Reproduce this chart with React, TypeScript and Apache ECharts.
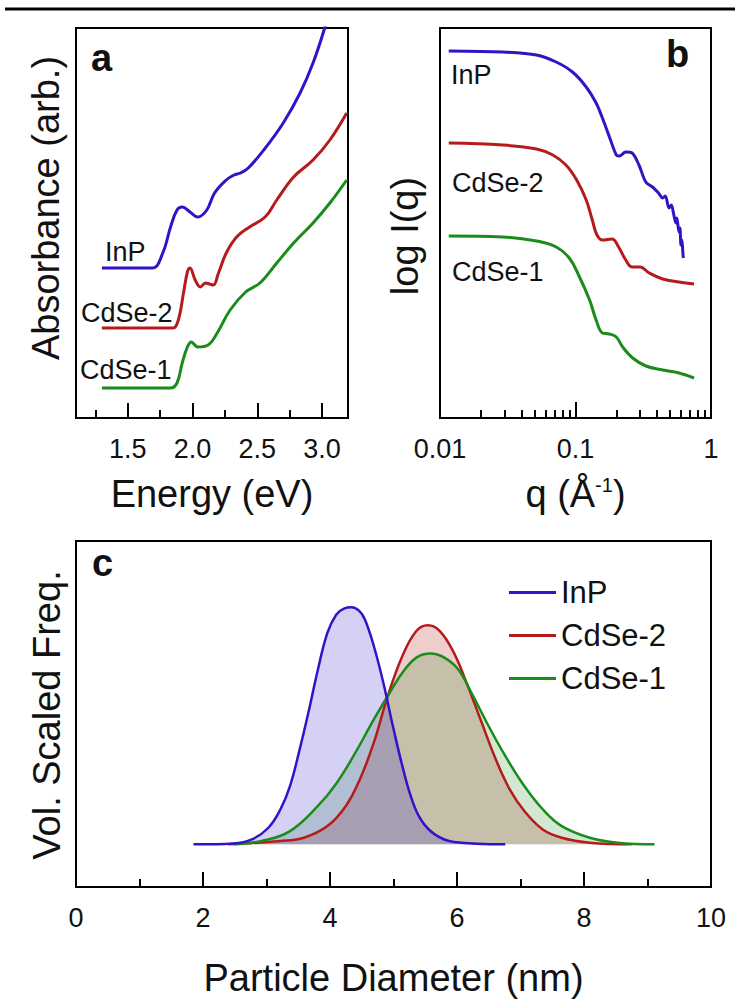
import React, { useEffect, useRef } from "react";
import * as echarts from "echarts";

const FONT = "'Liberation Sans', Arial, sans-serif";

// ---------- Panel a: absorbance vs energy (arbitrary units) ----------
const inpAbsE = [1.3, 1.5, 1.69, 1.77, 1.83, 1.88, 1.92, 1.98, 2.04, 2.11, 2.17, 2.26, 2.32, 2.37, 2.43, 2.55, 2.7, 2.83, 2.93, 3.02, 3.07];
const inpAbsVal = [150, 150, 150, 165, 191, 208, 211, 206, 201, 208, 225, 238, 243, 245, 250, 268, 295, 325, 355, 390, 415];
const cdse2AbsE = [1.3, 1.6, 1.85, 1.89, 1.93, 1.96, 1.98, 2.02, 2.06, 2.1, 2.13, 2.16, 2.2, 2.26, 2.34, 2.44, 2.56, 2.65, 2.78, 2.93, 3.06, 3.19];
const cdse2AbsVal = [90, 90, 90, 98, 125, 146, 150, 138, 131, 135, 134, 133, 145, 165, 181, 191, 201, 218, 241, 258, 278, 305];
const cdse1AbsE = [1.3, 1.6, 1.83, 1.88, 1.92, 1.96, 1.99, 2.04, 2.12, 2.19, 2.29, 2.41, 2.52, 2.65, 2.78, 2.93, 3.06, 3.19];
const cdse1AbsVal = [30, 30, 30, 35, 55, 71, 76, 71, 73, 85, 108, 126, 135, 155, 175, 195, 215, 238];
const energyTicks = [1.5, 2.0, 2.5, 3.0];
const energyMinorTicks = [1.25, 1.75, 2.25, 2.75];

// ---------- Panel b: SAXS log I(q) vs q ----------
const inpQ = [0.0116, 0.029, 0.0516, 0.072, 0.095, 0.12, 0.142, 0.158, 0.178, 0.2, 0.21, 0.235, 0.262, 0.294, 0.33, 0.37, 0.41, 0.44, 0.46, 0.49, 0.51, 0.53, 0.55, 0.56, 0.58, 0.59, 0.6, 0.61, 0.62, 0.625];
const inpI = [367, 366, 363, 356, 346, 331, 315, 300, 281, 263, 262, 266, 265, 253, 236, 231, 225, 220, 222, 210, 213, 204, 195, 200, 186, 190, 173, 178, 165, 160];
const cdse2Q = [0.0116, 0.029, 0.0516, 0.068, 0.085, 0.102, 0.12, 0.133, 0.144, 0.158, 0.186, 0.208, 0.235, 0.262, 0.3, 0.35, 0.44, 0.58, 0.75];
const cdse2I = [275, 273, 269, 263, 253, 238, 218, 198, 183, 178, 179, 171, 158, 151, 151, 145, 139, 136, 134];
const cdse1Q = [0.0116, 0.029, 0.0516, 0.072, 0.09, 0.107, 0.127, 0.142, 0.158, 0.178, 0.2, 0.223, 0.264, 0.331, 0.44, 0.58, 0.75];
const cdse1I = [182, 181, 177, 171, 160, 141, 118, 98, 85, 84, 81, 71, 60, 52, 48, 45, 40];
const qTickValues = [0.01, 0.1, 1];
const qTickLabels = ["0.01", "0.1", "1"];
const qMinorTicks = [0.02, 0.03, 0.04, 0.05, 0.06, 0.07, 0.08, 0.09, 0.2, 0.3, 0.4, 0.5, 0.6, 0.7, 0.8, 0.9];

// ---------- Panel c: size distributions ----------
const inpD = [1.85, 2.48, 2.77, 3.03, 3.22, 3.37, 3.51, 3.66, 3.81, 3.96, 4.1, 4.22, 4.34, 4.46, 4.55, 4.69, 4.84, 4.99, 5.14, 5.28, 5.43, 5.65, 5.95, 6.76];
const inpF = [0, 0.004, 0.021, 0.07, 0.148, 0.246, 0.387, 0.556, 0.738, 0.893, 0.97, 0.995, 1.0, 0.985, 0.949, 0.837, 0.682, 0.499, 0.33, 0.197, 0.105, 0.042, 0.01, 0];
const cdse2D = [2.4, 3.22, 3.59, 3.96, 4.25, 4.47, 4.69, 4.91, 5.14, 5.36, 5.54, 5.73, 5.95, 6.17, 6.39, 6.61, 6.83, 7.06, 7.35, 7.65, 8.09, 8.75];
const cdse2F = [0, 0.014, 0.028, 0.077, 0.162, 0.274, 0.429, 0.626, 0.795, 0.9, 0.924, 0.9, 0.809, 0.668, 0.513, 0.359, 0.232, 0.141, 0.063, 0.028, 0.007, 0];
const cdse1D = [2.48, 2.92, 3.37, 3.81, 4.1, 4.4, 4.69, 4.91, 5.14, 5.36, 5.58, 5.8, 6.02, 6.24, 6.47, 6.76, 7.06, 7.35, 7.65, 8.09, 8.53, 9.11];
const cdse1F = [0, 0.014, 0.056, 0.162, 0.257, 0.387, 0.527, 0.626, 0.724, 0.788, 0.805, 0.788, 0.738, 0.633, 0.513, 0.373, 0.246, 0.148, 0.077, 0.028, 0.007, 0];
const legendNames = ["InP", "CdSe-2", "CdSe-1"];

const BLUE = "#3412c8";
const RED = "#b51b1b";
const GREEN = "#1b8c1b";

const zip = (xs: number[], ys: number[]) => xs.map((x, i) => [x, ys[i]]);
const zipLog = (xs: number[], ys: number[]) => xs.map((x, i) => [Math.log10(x), ys[i]]);

export default function App() {
  const ref = useRef<HTMLDivElement>(null);
  useEffect(() => {
    if (!ref.current) return;
    const chart = echarts.init(ref.current, undefined, { renderer: "svg" });
    const labelStyle = { color: "#111", fontSize: 27, fontFamily: FONT, margin: 17 };
    const tickLine = { color: "#000", width: 2 };
    const axisLine = { show: true, onZero: false, lineStyle: { color: "#000", width: 2 } };
    const txt = (text: string, x: number, y: number, size: number, opts: any = {}) => ({
      type: "text",
      x,
      y,
      rotation: opts.rotation || 0,
      style: {
        text,
        fill: "#111",
        fontSize: size,
        fontFamily: FONT,
        fontWeight: opts.bold ? "bold" : "normal",
        align: opts.align || "left",
        textAlign: opts.align || "left",
        verticalAlign: opts.va || "middle",
        textVerticalAlign: opts.va || "middle",
      },
    });
    const option: any = {
      animation: false,
      grid: [
        { left: 76, top: 28, width: 272, height: 390, show: true, borderColor: "#000", borderWidth: 2 },
        { left: 440, top: 28, width: 271, height: 390, show: true, borderColor: "#000", borderWidth: 2 },
        { left: 76, top: 541, width: 635, height: 346, show: true, borderColor: "#000", borderWidth: 2 },
      ],
      xAxis: [
        {
          gridIndex: 0, type: "value", position: "bottom", min: 1.1, max: 3.2,
          axisLine,
          axisTick: { show: true, inside: true, length: 15, lineStyle: tickLine, customValues: energyTicks },
          axisLabel: { ...labelStyle, customValues: energyTicks, formatter: (v: number) => v.toFixed(1) },
          splitLine: { show: false },
          name: "Energy (eV)", nameLocation: "middle", nameGap: 57,
          nameTextStyle: { fontSize: 38, color: "#111", fontFamily: FONT },
        },
        {
          gridIndex: 0, type: "value", position: "bottom", min: 1.1, max: 3.2,
          axisLine: { show: false, onZero: false },
          axisTick: { show: true, inside: true, length: 8, lineStyle: tickLine, customValues: energyMinorTicks },
          axisLabel: { show: false },
          splitLine: { show: false },
        },
        {
          gridIndex: 1, type: "value", position: "bottom", min: -2, max: 0,
          axisLine,
          axisTick: { show: true, inside: true, length: 16, lineStyle: tickLine, customValues: [Math.log10(0.1)] },
          axisLabel: {
            ...labelStyle,
            customValues: qTickValues.map((q) => Math.log10(q)),
            showMinLabel: true,
            showMaxLabel: true,
            formatter: (v: number) => {
              const i = qTickValues.findIndex((q) => Math.abs(Math.log10(q) - v) < 1e-6);
              return i >= 0 ? qTickLabels[i] : "";
            },
          },
          splitLine: { show: false },
          name: "q (Å{sup|-1})", nameLocation: "middle", nameGap: 57,
          nameTextStyle: {
            fontSize: 38, color: "#111", fontFamily: FONT,
            rich: { sup: { fontSize: 20, color: "#111", fontFamily: FONT, verticalAlign: "top" } },
          },
        },
        {
          gridIndex: 1, type: "value", position: "bottom", min: -2, max: 0,
          axisLine: { show: false, onZero: false },
          axisTick: { show: true, inside: true, length: 8, lineStyle: tickLine, customValues: qMinorTicks.map((q) => Math.log10(q)) },
          axisLabel: { show: false },
          splitLine: { show: false },
        },
        {
          gridIndex: 2, type: "value", position: "bottom", min: 0, max: 10, interval: 2,
          axisLine,
          axisTick: { show: true, inside: true, length: 15, lineStyle: tickLine },
          minorTick: { show: true, splitNumber: 2, length: 8, lineStyle: tickLine },
          axisLabel: { ...labelStyle },
          splitLine: { show: false },
          minorSplitLine: { show: false },
          name: "Particle Diameter (nm)", nameLocation: "middle", nameGap: 72,
          nameTextStyle: { fontSize: 38, color: "#111", fontFamily: FONT },
        },
      ],
      yAxis: [
        { gridIndex: 0, type: "value", min: 0, max: 390, show: false },
        { gridIndex: 1, type: "value", min: 0, max: 390, show: false },
        { gridIndex: 2, type: "value", min: -0.18, max: 1.28, show: false },
      ],
      legend: {
        data: legendNames,
        orient: "vertical",
        left: 504,
        top: 572,
        itemWidth: 47,
        itemHeight: 3,
        icon: "rect",
        itemGap: 12,
        selectedMode: false,
        textStyle: { fontSize: 31, color: "#111", fontFamily: FONT },
      },
      series: [
        // panel a
        { name: "InP absorbance", type: "line", xAxisIndex: 0, yAxisIndex: 0, data: zip(inpAbsE, inpAbsVal), smooth: 0.4, symbol: "none", color: BLUE, lineStyle: { width: 3 }, clip: true },
        { name: "CdSe-2 absorbance", type: "line", xAxisIndex: 0, yAxisIndex: 0, data: zip(cdse2AbsE, cdse2AbsVal), smooth: 0.4, symbol: "none", color: RED, lineStyle: { width: 3 }, clip: true },
        { name: "CdSe-1 absorbance", type: "line", xAxisIndex: 0, yAxisIndex: 0, data: zip(cdse1AbsE, cdse1AbsVal), smooth: 0.4, symbol: "none", color: GREEN, lineStyle: { width: 3 }, clip: true },
        // panel b
        { name: "InP SAXS", type: "line", xAxisIndex: 2, yAxisIndex: 1, data: zipLog(inpQ, inpI), smooth: 0.3, symbol: "none", color: BLUE, lineStyle: { width: 3 } },
        { name: "CdSe-2 SAXS", type: "line", xAxisIndex: 2, yAxisIndex: 1, data: zipLog(cdse2Q, cdse2I), smooth: 0.4, symbol: "none", color: RED, lineStyle: { width: 3 } },
        { name: "CdSe-1 SAXS", type: "line", xAxisIndex: 2, yAxisIndex: 1, data: zipLog(cdse1Q, cdse1I), smooth: 0.4, symbol: "none", color: GREEN, lineStyle: { width: 3 } },
        // panel c
        { name: "CdSe-2", type: "line", xAxisIndex: 4, yAxisIndex: 2, data: zip(cdse2D, cdse2F), smooth: 0.4, symbol: "none", color: RED, lineStyle: { width: 2.5 }, areaStyle: { color: "rgba(180,20,20,0.3)" } },
        { name: "CdSe-1", type: "line", xAxisIndex: 4, yAxisIndex: 2, data: zip(cdse1D, cdse1F), smooth: 0.4, symbol: "none", color: GREEN, lineStyle: { width: 2.5 }, areaStyle: { color: "rgba(30,140,30,0.28)" } },
        { name: "InP", type: "line", xAxisIndex: 4, yAxisIndex: 2, data: zip(inpD, inpF), smooth: 0.4, symbol: "none", color: BLUE, lineStyle: { width: 2.5 }, areaStyle: { color: "rgba(60,40,210,0.31)" } },
      ],
      graphic: [
        { type: "line", shape: { x1: 5, y1: 9, x2: 735, y2: 9 }, style: { stroke: "#000", lineWidth: 3 } },
        txt("a", 91, 58, 38, { bold: true }),
        txt("b", 666, 54, 38, { bold: true }),
        txt("c", 92, 563, 38, { bold: true }),
        txt("Absorbance (arb.)", 46, 208, 38, { rotation: Math.PI / 2, align: "center" }),
        txt("log I(q)", 405, 236, 38, { rotation: Math.PI / 2, align: "center" }),
        txt("Vol. Scaled Freq.", 47, 715, 38, { rotation: Math.PI / 2, align: "center" }),
        txt("InP", 105, 252, 27),
        txt("CdSe-2", 81, 313, 27),
        txt("CdSe-1", 80, 370, 27),
        txt("InP", 451, 75, 27),
        txt("CdSe-2", 452, 183, 27),
        txt("CdSe-1", 452, 272, 27),
      ],
    };
    chart.setOption(option);
    return () => chart.dispose();
  }, []);
  return <div ref={ref} style={{ position: "absolute", left: 0, top: 0, width: 735, height: 1000 }} />;
}
